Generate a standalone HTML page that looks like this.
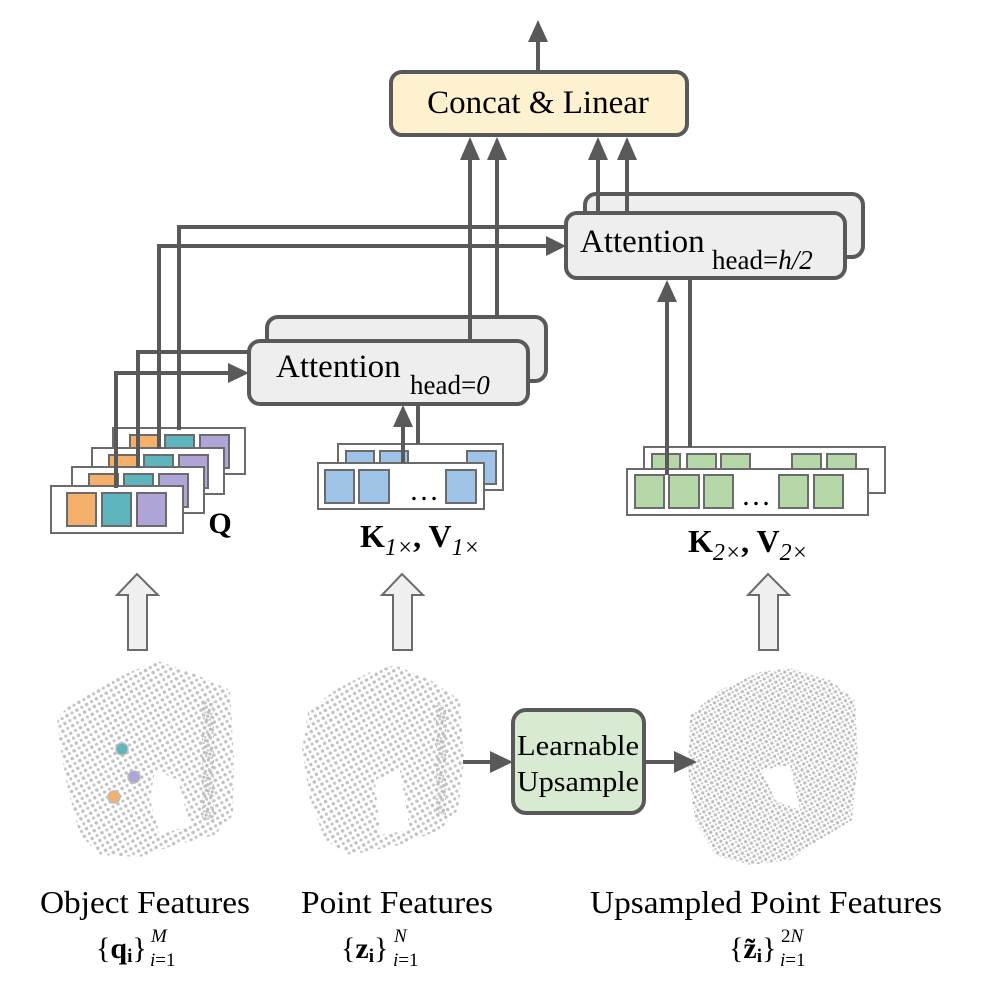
<!DOCTYPE html>
<html><head><meta charset="utf-8"><style>
html,body{margin:0;padding:0;background:#fff;}
svg{display:block;}
text{font-family:"Liberation Serif","DejaVu Serif",serif;fill:#000;}
</style></head><body>
<svg width="1000" height="1000" viewBox="0 0 1000 1000" xmlns="http://www.w3.org/2000/svg">
<defs>
<pattern id="dots" width="8" height="8" patternUnits="userSpaceOnUse" patternTransform="rotate(15)">
<circle cx="2" cy="2" r="1.8" fill="#c2c2c2"/><circle cx="6" cy="6" r="1.6" fill="#c6c6c6"/>
</pattern>
<pattern id="dots2" width="6" height="6" patternUnits="userSpaceOnUse" patternTransform="rotate(15)">
<circle cx="2" cy="2" r="1.6" fill="#bdbdbd"/><circle cx="5" cy="5" r="1.3" fill="#c6c6c6"/>
</pattern>
</defs>
<g stroke="#595959" stroke-width="4" fill="none">
<line x1="538" y1="72" x2="538" y2="40"/>
<line x1="470" y1="341" x2="470" y2="158"/>
<line x1="497" y1="317" x2="497" y2="158"/>
<line x1="598" y1="213" x2="598" y2="158"/>
<line x1="627" y1="194" x2="627" y2="158"/>
</g>
<g fill="#595959">
<path d="M528,42 L538,20 L548,42 z"/>
<path d="M460,160 L470,137 L480,160 z"/><path d="M487,160 L497,137 L507,160 z"/>
<path d="M588,160 L598,137 L608,160 z"/><path d="M617,160 L627,137 L637,160 z"/>
</g>
<rect x="391" y="72" width="296" height="63" rx="11" fill="#fdf1d0" stroke="#595959" stroke-width="4"/>
<text x="538" y="113" font-size="33" text-anchor="middle">Concat &amp; Linear</text>

<rect x="585" y="194" width="278" height="63" rx="11" fill="#eeeeee" stroke="#595959" stroke-width="4"/>
<line x1="627" y1="194" x2="627" y2="213" stroke="#595959" stroke-width="4"/>
<rect x="566" y="213" width="279" height="65" rx="11" fill="#eeeeee" stroke="#595959" stroke-width="4"/>
<line x1="598" y1="194" x2="598" y2="213" stroke="#595959" stroke-width="4"/>
<text x="580" y="252" font-size="33">Attention</text>
<text x="712" y="269" font-size="27">head=<tspan font-style="italic">h/2</tspan></text>

<g stroke="#595959" stroke-width="4" fill="none">
<polyline points="179,428 179,227 566,227"/>
<polyline points="159,447 159,246 548,246"/>
</g>
<path d="M546,236 L566,246 L546,256 z" fill="#595959"/>

<rect x="267" y="317" width="279" height="64" rx="11" fill="#eeeeee" stroke="#595959" stroke-width="4"/>
<line x1="470" y1="317" x2="470" y2="341" stroke="#595959" stroke-width="4"/>
<rect x="249" y="341" width="279" height="63" rx="11" fill="#eeeeee" stroke="#595959" stroke-width="4"/>
<text x="276" y="377" font-size="33">Attention</text>
<text x="410" y="394" font-size="27">head=<tspan font-style="italic">0</tspan></text>

<g stroke="#595959" stroke-width="4" fill="none">
<polyline points="138,465 138,352 249,352"/>
<polyline points="116,487 116,373 230,373"/>
</g>
<path d="M228,363 L249,373 L228,383 z" fill="#595959"/>

<g stroke="#6b6b6b" stroke-width="2">
<rect x="113" y="428" width="132" height="46" fill="#fff"/>
<rect x="130" y="435" width="29" height="33" fill="#f5b06c"/><rect x="165" y="435" width="29" height="33" fill="#5fb5be"/><rect x="200" y="435" width="29" height="33" fill="#b1a4d6"/>
<rect x="92" y="448" width="132" height="46" fill="#fff"/>
<rect x="109" y="455" width="29" height="33" fill="#f5b06c"/><rect x="144" y="455" width="29" height="33" fill="#5fb5be"/><rect x="179" y="455" width="29" height="33" fill="#b1a4d6"/>
<rect x="72" y="467" width="132" height="46" fill="#fff"/>
<rect x="89" y="474" width="29" height="33" fill="#f5b06c"/><rect x="124" y="474" width="29" height="33" fill="#5fb5be"/><rect x="159" y="474" width="29" height="33" fill="#b1a4d6"/>
<rect x="51" y="486" width="132" height="47" fill="#fff"/>
<rect x="67" y="493" width="29" height="33" fill="#f5b06c"/><rect x="102" y="493" width="29" height="33" fill="#5fb5be"/><rect x="137" y="493" width="29" height="33" fill="#b1a4d6"/>
</g>
<g stroke="#595959" stroke-width="4">
<line x1="179" y1="427" x2="179" y2="430"/>
<line x1="159" y1="427" x2="159" y2="449"/>
<line x1="138" y1="427" x2="138" y2="468"/>
<line x1="116" y1="427" x2="116" y2="488"/>
</g>
<text x="220" y="533" font-size="30" font-weight="bold" text-anchor="middle">Q</text>

<g stroke="#6b6b6b" stroke-width="2">
<rect x="338" y="444" width="165" height="46" fill="#fff"/>
<rect x="346" y="451" width="28" height="33" fill="#a0c4e8"/><rect x="380" y="451" width="28" height="33" fill="#a0c4e8"/><rect x="467" y="451" width="29" height="33" fill="#a0c4e8"/>
<rect x="318" y="463" width="166" height="46" fill="#fff"/>
<rect x="325" y="470" width="29" height="33" fill="#a0c4e8"/><rect x="359" y="470" width="30" height="33" fill="#a0c4e8"/><rect x="446" y="470" width="30" height="33" fill="#a0c4e8"/>
</g>
<text x="424" y="500" font-size="30" text-anchor="middle">…</text>
<g stroke="#595959" stroke-width="4">
<line x1="403" y1="463" x2="403" y2="425"/>
<line x1="418" y1="444" x2="418" y2="404"/>
</g>
<path d="M393,427 L403,405 L413,427 z" fill="#595959"/>
<text x="360" y="547" font-size="32" font-weight="bold">K<tspan font-size="24" font-style="italic" font-weight="normal" dy="8">1×</tspan><tspan dy="-8">, V</tspan><tspan font-size="24" font-style="italic" font-weight="normal" dy="8">1×</tspan></text>

<g stroke="#6b6b6b" stroke-width="2">
<rect x="644" y="447" width="241" height="46" fill="#fff"/>
<rect x="652" y="454" width="28" height="33" fill="#b6d7a8"/><rect x="687" y="454" width="29" height="33" fill="#b6d7a8"/><rect x="721" y="454" width="29" height="33" fill="#b6d7a8"/><rect x="792" y="454" width="29" height="33" fill="#b6d7a8"/><rect x="827" y="454" width="29" height="33" fill="#b6d7a8"/>
<rect x="627" y="469" width="241" height="46" fill="#fff"/>
<rect x="635" y="475" width="29" height="33" fill="#b6d7a8"/><rect x="669" y="475" width="30" height="33" fill="#b6d7a8"/><rect x="704" y="475" width="29" height="33" fill="#b6d7a8"/><rect x="779" y="475" width="29" height="33" fill="#b6d7a8"/><rect x="814" y="475" width="29" height="33" fill="#b6d7a8"/>
</g>
<text x="756" y="505" font-size="30" text-anchor="middle">…</text>
<g stroke="#595959" stroke-width="4">
<line x1="667" y1="475" x2="667" y2="300"/>
<line x1="690" y1="447" x2="690" y2="278"/>
</g>
<path d="M657,302 L667,280 L677,302 z" fill="#595959"/>
<text x="688" y="552" font-size="32" font-weight="bold">K<tspan font-size="24" font-style="italic" font-weight="normal" dy="8">2×</tspan><tspan dy="-8">, V</tspan><tspan font-size="24" font-style="italic" font-weight="normal" dy="8">2×</tspan></text>

<g fill="#f0f0f0" stroke="#6b6b6b" stroke-width="2">
<path d="M128,650 L128,595 L117,595 L137,574 L158,595 L147,595 L147,650 z"/>
<path d="M393,650 L393,595 L382,595 L402,574 L423,595 L412,595 L412,650 z"/>
<path d="M759,650 L759,595 L748,595 L768,574 L789,595 L778,595 L778,650 z"/>
</g>

<path fill="url(#dots)" fill-rule="evenodd" d="M158,661 L190,672 L230,690 L234,760 L233,815 L215,835 L175,845 L140,857 L100,855 L80,835 L68,790 L60,745 L57,718 L75,700 L105,683 L135,670 Z M155,770 L178,780 L190,825 L160,835 L150,800 Z"/>
<rect x="202" y="700" width="12" height="120" fill="url(#dots2)"/>
<circle cx="122" cy="749" r="6" fill="#5fb5be" stroke="#bbb" stroke-width="1.5"/>
<circle cx="134" cy="777" r="6" fill="#b1a4d6" stroke="#bbb" stroke-width="1.5"/>
<circle cx="114" cy="797" r="6" fill="#f5b06c" stroke="#bbb" stroke-width="1.5"/>

<path fill="url(#dots)" fill-rule="evenodd" d="M395,665 L430,680 L460,700 L464,760 L458,810 L440,830 L400,845 L350,855 L325,840 L310,800 L302,750 L308,712 L335,690 L370,672 Z M375,780 L400,770 L410,830 L380,835 Z"/>
<rect x="436" y="705" width="10" height="110" fill="url(#dots2)"/>

<path fill="url(#dots2)" fill-rule="evenodd" d="M790,668 L830,680 L855,700 L858,760 L852,820 L820,840 L790,860 L750,865 L715,855 L695,820 L688,770 L690,715 L720,690 L760,672 Z M762,770 L790,765 L800,810 L775,800 Z"/>

<g stroke="#595959" stroke-width="4">
<line x1="463" y1="762" x2="495" y2="762"/>
<line x1="644" y1="762" x2="677" y2="762"/>
</g>
<path d="M490,751 L513,762 L490,773 z" fill="#595959"/>
<path d="M674,751 L697,762 L674,773 z" fill="#595959"/>
<rect x="513" y="710" width="131" height="103" rx="13" fill="#d9ead3" stroke="#595959" stroke-width="4"/>
<text x="578" y="755" font-size="29" text-anchor="middle" textLength="122" lengthAdjust="spacingAndGlyphs">Learnable</text>
<text x="578" y="791" font-size="29" text-anchor="middle" textLength="122" lengthAdjust="spacingAndGlyphs">Upsample</text>

<text x="145" y="913" font-size="32" text-anchor="middle" textLength="210" lengthAdjust="spacingAndGlyphs">Object Features</text>
<text x="397" y="913" font-size="32" text-anchor="middle" textLength="192" lengthAdjust="spacingAndGlyphs">Point Features</text>
<text x="766" y="913" font-size="32" text-anchor="middle" textLength="352" lengthAdjust="spacingAndGlyphs">Upsampled Point Features</text>

<text x="96" y="958" font-size="30">{<tspan font-weight="bold">q</tspan><tspan font-size="19" font-weight="bold" dy="4">i</tspan><tspan dy="-4">}</tspan></text>
<text x="151" y="942" font-size="19" font-style="italic">M</text>
<text x="150" y="966" font-size="19"><tspan font-style="italic">i</tspan>=1</text>
<text x="341" y="958" font-size="30">{<tspan font-weight="bold">z</tspan><tspan font-size="19" font-weight="bold" dy="4">i</tspan><tspan dy="-4">}</tspan></text>
<text x="394" y="942" font-size="19" font-style="italic">N</text>
<text x="393" y="966" font-size="19"><tspan font-style="italic">i</tspan>=1</text>
<text x="729" y="958" font-size="30">{<tspan font-weight="bold">z̃</tspan><tspan font-size="19" font-weight="bold" dy="4">i</tspan><tspan dy="-4">}</tspan></text>
<text x="781" y="942" font-size="19">2<tspan font-style="italic">N</tspan></text>
<text x="780" y="966" font-size="19"><tspan font-style="italic">i</tspan>=1</text>
</svg>
</body></html>
